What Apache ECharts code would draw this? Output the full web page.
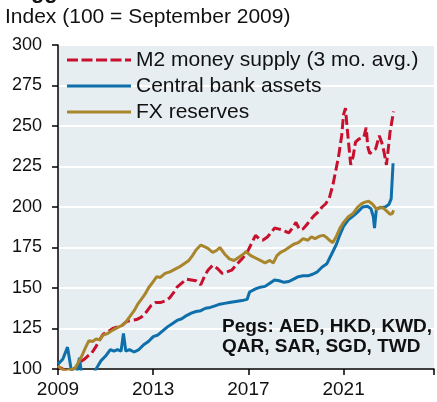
<!DOCTYPE html>
<html>
<head>
<meta charset="utf-8">
<script src="https://cdn.jsdelivr.net/npm/echarts@6/dist/echarts.min.js"></script>
<style>
  html, body { margin: 0; padding: 0; background: #fff; }
  #main { width: 437px; height: 402px; }
</style>
</head>
<body>
<div id="main"></div>
<script>
// index, 100 = September 2009 ; x in decimal years
var m2Years = [2009.0, 2009.15, 2009.35, 2009.55, 2009.75, 2009.9, 2010.1, 2010.25, 2010.4, 2010.6, 2010.75, 2010.9,
  2011.1, 2011.3, 2011.5, 2011.7, 2011.9, 2012.1, 2012.3, 2012.5, 2012.7, 2012.9, 2013.1, 2013.3, 2013.5, 2013.7,
  2013.85, 2014.0, 2014.2, 2014.4, 2014.6, 2014.8, 2015.0, 2015.15, 2015.3, 2015.5, 2015.7, 2015.9, 2016.1, 2016.3,
  2016.5, 2016.7, 2016.85, 2017.0, 2017.15, 2017.3, 2017.45, 2017.6, 2017.8, 2017.95, 2018.1, 2018.25, 2018.4,
  2018.55, 2018.7, 2018.85, 2019.0, 2019.15, 2019.3, 2019.45, 2019.6, 2019.75, 2019.9, 2020.1, 2020.25, 2020.4,
  2020.55, 2020.7, 2020.8, 2020.92, 2021.0, 2021.08, 2021.15, 2021.22, 2021.3, 2021.4, 2021.5, 2021.65, 2021.85,
  2021.95, 2022.02, 2022.1, 2022.25, 2022.35, 2022.5, 2022.6, 2022.7, 2022.8, 2022.88, 2022.95, 2023.02, 2023.1];
var m2Values = [101, 100.5, 98.5, 99, 101, 104, 106, 108, 109.5, 114, 118, 121.5,
  123, 125, 126, 127, 129.5, 130, 130.5, 132, 135, 139, 141, 141, 142, 144,
  147, 150.5, 153, 155.5, 155, 154.5, 152, 157, 161, 164, 162, 159, 160, 161,
  164.5, 167.5, 170, 173.5, 178, 182.5, 180.5, 179.5, 181.5, 184, 187, 186.5, 186,
  185, 184, 187, 190.5, 186, 186.5, 189, 192, 194.5, 196.5, 200, 202, 205.5,
  213.5, 224.5, 232, 244, 257, 261, 249, 238, 226, 231, 240, 242, 243,
  249, 237, 233, 235, 236, 244, 240, 234, 226, 236, 246, 252, 259];

var cbYears = [2009.0, 2009.2, 2009.4, 2009.55, 2009.65, 2009.8, 2009.9, 2010.0, 2010.3, 2010.6, 2010.8, 2011.0,
  2011.2, 2011.35, 2011.5, 2011.65, 2011.75, 2011.85, 2012.0, 2012.2, 2012.4, 2012.6, 2012.8, 2013.0, 2013.2,
  2013.4, 2013.6, 2013.8, 2014.0, 2014.2, 2014.4, 2014.6, 2014.8, 2015.0, 2015.2, 2015.4, 2015.6, 2015.8, 2016.0,
  2016.2, 2016.4, 2016.6, 2016.8, 2016.95, 2017.05, 2017.3, 2017.5, 2017.7, 2017.9, 2018.1, 2018.3, 2018.5,
  2018.7, 2018.9, 2019.1, 2019.3, 2019.5, 2019.7, 2019.9, 2020.1, 2020.3, 2020.5, 2020.7, 2020.85, 2021.0,
  2021.2, 2021.45, 2021.6, 2021.8, 2022.0, 2022.15, 2022.25, 2022.3, 2022.38, 2022.55, 2022.75, 2022.9, 2023.0, 2023.08];
var cbValues = [103, 106, 113.5, 100, 95, 98, 107, 96, 92, 100, 105, 108,
  112, 111, 112, 111, 122, 111, 112, 110.5, 112, 115, 117, 120, 121,
  123.5, 126, 128, 130, 131, 133, 134.5, 135.5, 136, 137.5, 138, 139, 140, 140.5,
  141, 141.5, 142, 142.5, 143, 147.5, 149.5, 150.5, 151, 153, 155, 154.5, 153.5,
  154, 155.5, 157, 157.5, 157.5, 158.5, 160, 163, 165, 171, 177, 183, 188,
  192, 195, 197, 200, 200.5, 199, 194, 187, 199, 199.5, 200, 201.5, 205, 227];

var fxYears = [2009.0, 2009.15, 2009.3, 2009.5, 2009.7, 2009.85, 2010.0, 2010.15, 2010.3, 2010.45, 2010.6, 2010.75,
  2010.9, 2011.1, 2011.3, 2011.5, 2011.7, 2011.85, 2012.0, 2012.2, 2012.35, 2012.5, 2012.65, 2012.8, 2013.0,
  2013.15, 2013.3, 2013.5, 2013.7, 2013.9, 2014.1, 2014.3, 2014.5, 2014.65, 2014.8, 2015.0, 2015.15, 2015.3,
  2015.5, 2015.65, 2015.8, 2016.0, 2016.2, 2016.4, 2016.6, 2016.8, 2016.9, 2017.1, 2017.3, 2017.5, 2017.7,
  2017.9, 2018.05, 2018.2, 2018.35, 2018.5, 2018.7, 2018.9, 2019.1, 2019.3, 2019.5, 2019.65, 2019.8, 2020.0,
  2020.15, 2020.3, 2020.45, 2020.55, 2020.7, 2020.85, 2021.0, 2021.2, 2021.4, 2021.6, 2021.75, 2021.9, 2022.05,
  2022.2, 2022.4, 2022.55, 2022.7, 2022.85, 2022.95, 2023.05, 2023.1];
var fxValues = [102, 100, 99, 99.5, 100, 104, 108, 113, 117.5, 117, 118.5, 118,
  121, 122, 124, 125.5, 127, 129, 132, 136, 140, 143, 146, 150, 154,
  157, 156.5, 159, 160, 161.5, 163, 165, 167, 170, 173.5, 176.5, 175.5, 174.5,
  172, 173, 175, 171, 168, 167, 169, 171, 172.5, 170, 168.5, 167, 165.5,
  167, 165.5, 170, 172, 173, 175, 177, 178, 180.5, 179.5, 181.5, 180.5, 182,
  182.5, 181, 179, 178, 182, 187, 190.5, 194, 196, 200, 202, 203, 203.5,
  202, 198.5, 200, 199, 197, 195.5, 196, 198];

var yearTicks = [2009, 2013, 2017, 2021];
var seriesNames = ['M2 money supply (3 mo. avg.)', 'Central bank assets', 'FX reserves'];
var seriesColors = ['#C8102E', '#0E6FAA', '#A9852B'];
var pegsNote = 'Pegs: AED, HKD, KWD,\nQAR, SAR, SGD, TWD';

function pairs(xs, ys) {
  return xs.map(function (x, i) { return [x, ys[i]]; });
}

// legend keys: plain line, and a dashed one for M2
var solidKey = 'path://M0,0h64v3h-64z';
var dashedKey = 'path://M0,0h11v3h-11z M14.5,0h11v3h-11z M29,0h11v3h-11z M43.5,0h11v3h-11z M58,0h6v3h-6z';

var FONT = 'Liberation Sans, Arial, sans-serif';
var chart = echarts.init(document.getElementById('main'), null, { renderer: 'canvas' });

chart.setOption({
  animation: false,
  backgroundColor: '#fff',
  textStyle: { fontFamily: FONT },
  grid: {
    left: 58, right: 0, top: 45, bottom: 33,
    show: true, backgroundColor: '#E6EEF2', borderWidth: 0
  },
  legend: {
    data: [
      { name: seriesNames[0], icon: dashedKey },
      { name: seriesNames[1], icon: solidKey },
      { name: seriesNames[2], icon: solidKey }
    ],
    orient: 'vertical',
    left: 67, top: 47,
    padding: 0,
    itemGap: 0,
    itemWidth: 64,
    itemHeight: 3,
    textStyle: { fontSize: 21, color: '#111', lineHeight: 26, fontFamily: FONT }
  },
  xAxis: {
    type: 'value',
    min: 2009, max: 2024.8, interval: 4,
    axisLine: { lineStyle: { color: '#000', width: 1.5 } },
    axisTick: { show: true, length: 6, lineStyle: { color: '#000', width: 1.5 } },
    axisLabel: {
      fontSize: 19, color: '#111', margin: 11, fontFamily: FONT,
      formatter: function (v) { return yearTicks.indexOf(v) >= 0 ? String(v) : ''; }
    },
    splitLine: { show: false }
  },
  yAxis: {
    type: 'value',
    min: 100, max: 300, interval: 25,
    axisLine: { show: true, lineStyle: { color: '#000', width: 1.5 } },
    axisTick: { show: true, length: 6, lineStyle: { color: '#000', width: 1.5 } },
    axisLabel: { fontSize: 18, color: '#111', margin: 16, fontFamily: FONT },
    splitLine: { show: true, lineStyle: { color: '#fff', width: 2 } }
  },
  series: [
    {
      name: seriesNames[0], type: 'line', symbol: 'none',
      data: pairs(m2Years, m2Values),
      lineStyle: { color: seriesColors[0], width: 3, type: [10, 4] },
      itemStyle: { color: seriesColors[0] }
    },
    {
      name: seriesNames[1], type: 'line', symbol: 'none',
      data: pairs(cbYears, cbValues),
      lineStyle: { color: seriesColors[1], width: 3 },
      itemStyle: { color: seriesColors[1] }
    },
    {
      name: seriesNames[2], type: 'line', symbol: 'none',
      data: pairs(fxYears, fxValues),
      lineStyle: { color: seriesColors[2], width: 3 },
      itemStyle: { color: seriesColors[2] }
    }
  ],
  graphic: [
    {
      type: 'text', left: 4, top: -19, z: 100,
      style: { text: 'Pegged', font: 'bold 22px ' + FONT, fill: '#111' }
    },
    {
      type: 'text', left: 5, top: 7, z: 100,
      style: { text: 'Index (100 = September 2009)', font: '21px ' + FONT, fill: '#111' }
    },
    {
      type: 'text', left: 222, top: 317, z: 100,
      style: { text: pegsNote, font: 'bold 19px ' + FONT, fill: '#111', lineHeight: 20 }
    }
  ]
});
</script>
</body>
</html>
